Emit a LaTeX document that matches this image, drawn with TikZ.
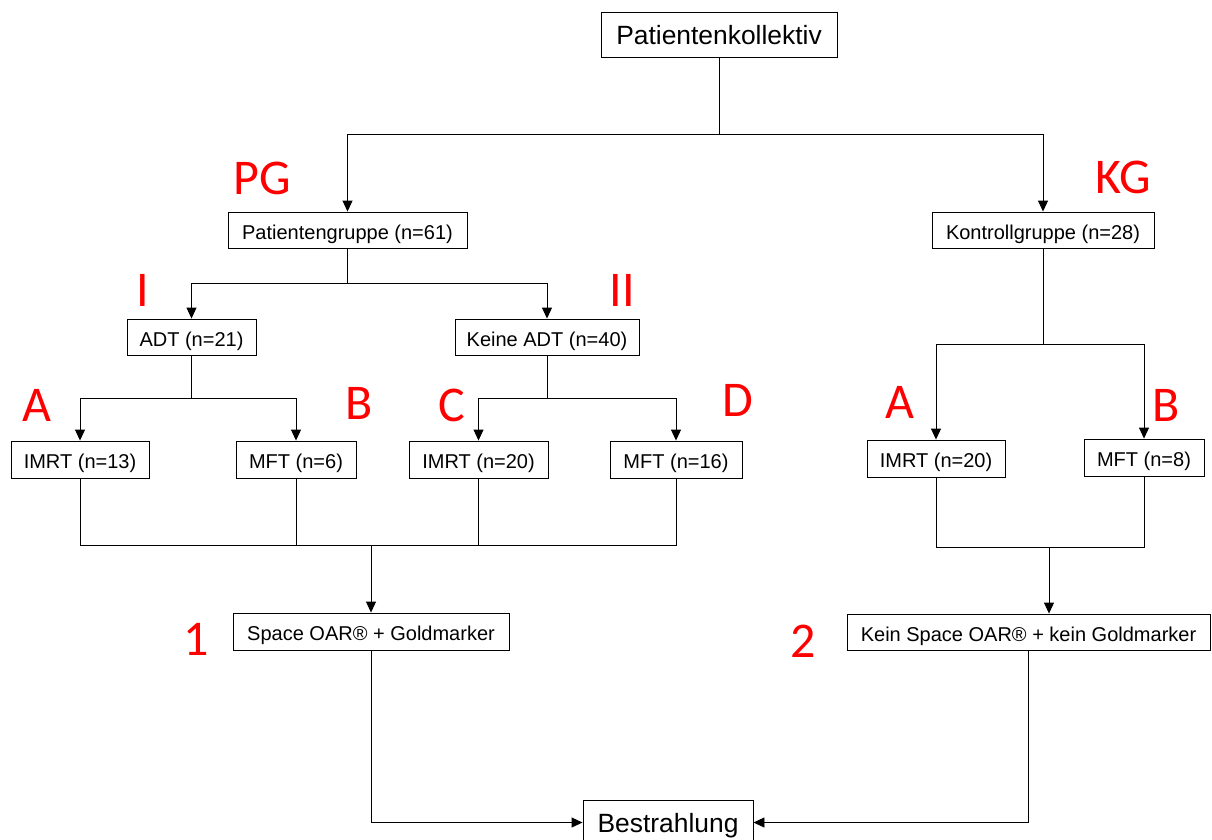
\documentclass[tikz,border=0pt]{standalone}
\definecolor{labelred}{RGB}{255, 0, 0}
\usepackage{fontspec}
\setmainfont{Liberation Sans}
\newfontfamily\calib{Carlito}
\usepackage{tikz}
\usetikzlibrary{arrows.meta, positioning}

\tikzset{
  box/.style={draw, line width=0.9pt, inner sep=0pt, minimum height=36pt, text height=18.5pt, text depth=0pt, font=\fontsize{20}{22}\selectfont},
  bigbox/.style={box, minimum height=45pt, text height=19pt, font=\fontsize{26.4}{30}\selectfont},
  arr/.style={-{Triangle[length=11pt, width=10pt]}},
  grplabel/.style={text=labelred, inner sep=0pt, font=\calib\fontsize{50}{55}\selectfont}
}

\begin{document}
\begin{tikzpicture}[x=1pt, y=-1pt, line width=0.9pt]
  \useasboundingbox (0,0) rectangle (1212,839);

  % Top
  \node[bigbox, minimum width=236pt] (kollektiv) at (719, 34.5) {Patientenkollektiv};
  \node[box, minimum width=239pt] (pg) at (347.5, 230) {Patientengruppe (n=61)};
  \node[box, minimum width=222pt] (kg) at (1043, 230) {Kontrollgruppe (n=28)};

  % Patientengruppe
  \node[box, minimum width=129pt] (adt) at (191.5, 337) {ADT (n=21)};
  \node[box, minimum width=184pt] (keine) at (547, 337) {Keine ADT (n=40)};
  \node[box, minimum width=138pt, minimum height=37pt] (imrt13) at (80, 459.5) {IMRT (n=13)};
  \node[box, minimum width=120pt, minimum height=37pt] (mft6) at (296, 459.5) {MFT (n=6)};
  \node[box, minimum width=139pt, minimum height=37pt] (imrt20a) at (478.5, 459.5) {IMRT (n=20)};
  \node[box, minimum width=132pt, minimum height=37pt] (mft16) at (676, 459.5) {MFT (n=16)};

  % Kontrollgruppe
  \node[box, minimum width=138pt, minimum height=37pt] (imrt20b) at (936, 458.5) {IMRT (n=20)};
  \node[box, minimum width=120pt, minimum height=37pt] (mft8) at (1144, 457.5) {MFT (n=8)};

  % Marker
  \node[box, minimum width=276pt, minimum height=37pt] (oar) at (371, 631.5) {Space OAR\textregistered{} + Goldmarker};
  \node[box, minimum width=363pt] (koar) at (1028.5, 632) {Kein Space OAR\textregistered{} + kein Goldmarker};
  \node[bigbox, minimum width=170pt] (bestr) at (668, 822.5) {Bestrahlung};

  % Junctions
  \coordinate (split0) at (719, 134);
  \coordinate (split1) at (347.5, 283);
  \coordinate (split2) at (191.5, 398);
  \coordinate (split3) at (547, 398);
  \coordinate (split4) at (1043, 344);
  \coordinate (merge1) at (371, 545);
  \coordinate (merge2) at (1049, 547);

  \draw (kollektiv.south) -- (split0);
  \draw[arr] (split0) -| (pg.north);
  \draw[arr] (split0) -| (kg.north);

  \draw (pg.south) -- (split1);
  \draw[arr] (split1) -| (adt.north);
  \draw[arr] (split1) -| (keine.north);

  \draw (adt.south) -- (split2);
  \draw[arr] (split2) -| (imrt13.north);
  \draw[arr] (split2) -| (mft6.north);

  \draw (keine.south) -- (split3);
  \draw[arr] (split3) -| (imrt20a.north);
  \draw[arr] (split3) -| (mft16.north);

  \draw (kg.south) -- (split4);
  \draw[arr] (split4) -| (imrt20b.north);
  \draw[arr] (split4) -| (mft8.north);

  % Merge PG
  \draw (imrt13.south) -- (imrt13.south |- merge1) -- (mft16.south |- merge1) -- (mft16.south);
  \draw (mft6.south) -- (mft6.south |- merge1);
  \draw (imrt20a.south) -- (imrt20a.south |- merge1);
  \draw[arr] (merge1) -- (oar.north);

  % Merge KG
  \draw (imrt20b.south) -- (imrt20b.south |- merge2) -- (mft8.south |- merge2) -- (mft8.south);
  \draw[arr] (merge2) -- (merge2 |- koar.north);

  % Bestrahlung
  \draw[arr] (oar.south) |- (bestr.west);
  \draw[arr] (koar.south) |- (bestr.east);

  % Group labels
  \node[grplabel] (lblPG) at (262, 178) {PG};
  \node[grplabel] (lblKG) at (1123, 177) {KG};
  \node[grplabel] (lblI) at (143, 290) {I};
  \node[grplabel] (lblII) at (622, 290) {II};
  \node[grplabel] (lblA) at (37, 405) {A};
  \node[grplabel] (lblB) at (359, 403) {B};
  \node[grplabel] (lblC) at (452, 405) {C};
  \node[grplabel] (lblD) at (738, 400) {D};
  \node[grplabel] (lblKA) at (900, 402) {A};
  \node[grplabel] (lblKB) at (1166, 405) {B};
  \node[grplabel] (lbl1) at (196, 639) {1};
  \node[grplabel] (lbl2) at (803, 641) {2};
\end{tikzpicture}
\end{document}
